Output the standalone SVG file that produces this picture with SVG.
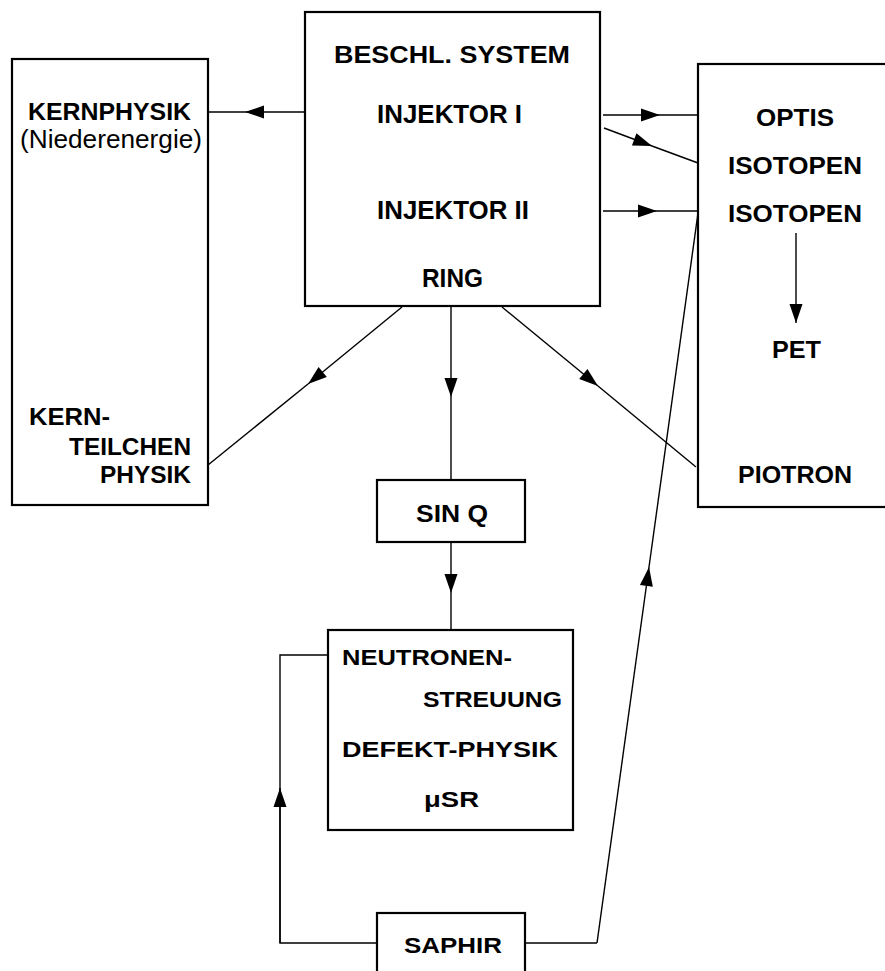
<svg xmlns="http://www.w3.org/2000/svg" width="885" height="971" viewBox="0 0 885 971">
<style>
.box{fill:none;stroke:#000;stroke-width:2.2}
.c{fill:none;stroke:#000;stroke-width:1.4}
.ar{marker-end:url(#ah)}
text{font-family:"Liberation Sans",Arial,sans-serif;font-weight:bold;font-size:24px;fill:#000}
.r{font-weight:normal}
.s{font-size:22px}
</style>
<defs>
<marker id="ah" viewBox="-20 -8 20 16" refX="0" refY="0" markerWidth="20" markerHeight="16" markerUnits="userSpaceOnUse" orient="auto">
<path d="M0,0 L-19,-6.5 L-19,6.5 z" fill="#000"/>
</marker>
</defs>
<rect width="885" height="971" fill="#fff"/>

<g id="connectors">
<path class="c ar" d="M305,112 L245,112"/><path class="c" d="M245,112 L208,112"/>
<path class="c ar" d="M603,115 L660,115"/><path class="c" d="M660,115 L698,115"/>
<path class="c ar" d="M604,128 L652,146"/><path class="c" d="M652,146 L698,163"/>
<path class="c ar" d="M603,211 L657,211"/><path class="c" d="M657,211 L698,211"/>
<path class="c ar" d="M402,307 L308,384"/><path class="c" d="M308,384 L208,465"/>
<path class="c ar" d="M451,307 L451,397"/><path class="c" d="M451,397 L451,480"/>
<path class="c ar" d="M502,307 L598,386"/><path class="c" d="M598,386 L696,467"/>
<path class="c ar" d="M451,542 L451,593"/><path class="c" d="M451,593 L451,630"/>
<path class="c ar" d="M796,233 L796,323"/>
<path class="c" d="M377,943 L280,943 L280,788"/><path class="c ar" d="M280,943 L280,788"/><path class="c" d="M280,788 L280,655 L328,655"/>
<path class="c" d="M525,943 L597,943"/><path class="c ar" d="M597,943 L649,567"/><path class="c" d="M649,567 L698,213"/>
</g>

<g id="beschl">
<rect class="box" x="305" y="12" width="295" height="294"/>
<text x="334" y="63" textLength="236" lengthAdjust="spacingAndGlyphs">BESCHL.  SYSTEM</text>
<text x="377" y="123" textLength="145" lengthAdjust="spacingAndGlyphs" style="font-size:25px">INJEKTOR I</text>
<text x="377" y="219" textLength="152" lengthAdjust="spacingAndGlyphs" style="font-size:25px">INJEKTOR II</text>
<text x="422" y="287" textLength="61" lengthAdjust="spacingAndGlyphs" style="font-size:25px">RING</text>
</g>

<g id="kernphysik">
<rect class="box" x="12" y="59" width="196" height="446"/>
<text x="28" y="120" textLength="163" lengthAdjust="spacingAndGlyphs">KERNPHYSIK</text>
<text class="r" x="20" y="148" textLength="182" lengthAdjust="spacingAndGlyphs" style="font-size:25px">(Niederenergie)</text>
<text x="29" y="425" textLength="81" lengthAdjust="spacingAndGlyphs">KERN-</text>
<text x="69" y="455" textLength="122" lengthAdjust="spacingAndGlyphs">TEILCHEN</text>
<text x="100" y="483" textLength="91" lengthAdjust="spacingAndGlyphs">PHYSIK</text>
</g>

<g id="optis">
<rect class="box" x="698" y="64" width="192" height="443"/>
<text x="756" y="126" textLength="78" lengthAdjust="spacingAndGlyphs">OPTIS</text>
<text x="728" y="174" textLength="134" lengthAdjust="spacingAndGlyphs">ISOTOPEN</text>
<text x="728" y="222" textLength="134" lengthAdjust="spacingAndGlyphs">ISOTOPEN</text>
<text x="772" y="358" textLength="49" lengthAdjust="spacingAndGlyphs">PET</text>
<text x="738" y="483" textLength="114" lengthAdjust="spacingAndGlyphs">PIOTRON</text>
</g>

<g id="sinq">
<rect class="box" x="377" y="480" width="148" height="62"/>
<text x="416" y="522" textLength="72" lengthAdjust="spacingAndGlyphs">SIN Q</text>
</g>

<g id="neutronen">
<rect class="box" x="328" y="630" width="245" height="200"/>
<text class="s" x="342" y="665" textLength="170" lengthAdjust="spacingAndGlyphs">NEUTRONEN-</text>
<text class="s" x="423" y="707" textLength="139" lengthAdjust="spacingAndGlyphs">STREUUNG</text>
<text class="s" x="342" y="757" textLength="216" lengthAdjust="spacingAndGlyphs">DEFEKT-PHYSIK</text>
<text class="s" x="424" y="807" textLength="55" lengthAdjust="spacingAndGlyphs">μSR</text>
</g>

<g id="saphir">
<rect class="box" x="377" y="913" width="148" height="70"/>
<text class="s" x="404" y="953" textLength="98" lengthAdjust="spacingAndGlyphs">SAPHIR</text>
</g>
</svg>
